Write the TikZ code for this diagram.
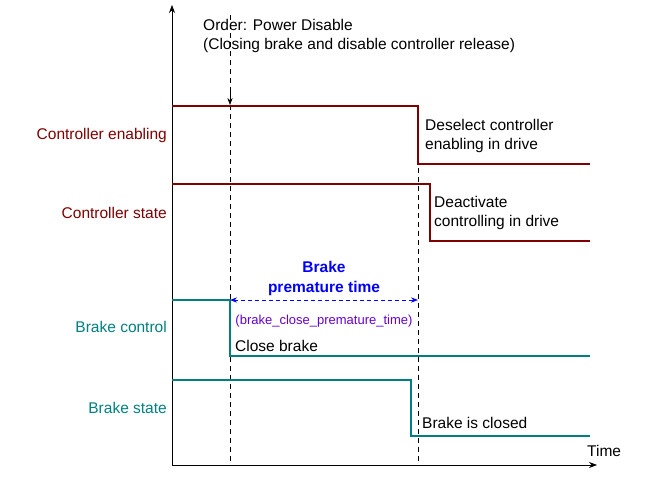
\documentclass[tikz,border=0pt]{standalone}
\usepackage{fontspec}
\setmainfont{Liberation Sans}
\usetikzlibrary{arrows.meta, positioning}
\definecolor{sigred}{RGB}{128,0,0}
\definecolor{sigteal}{RGB}{0,128,128}
\definecolor{lblblue}{RGB}{0,0,255}
\definecolor{lblpurple}{RGB}{102,0,204}
\tikzset{
  sig/.style={line width=2pt},
  lbl/.style={font=\fontsize{15.5}{19}\selectfont, inner sep=0pt},
  tmark/.style={dash pattern=on 5pt off 4pt, line width=0.7pt},
}
\begin{document}
\begin{tikzpicture}[x=1pt, y=-1pt, >=Stealth]
    \useasboundingbox (0,0) rectangle (647,481);

    % axes
    \coordinate (origin) at (172,465);
    \coordinate (ytop) at (172,5);
    \coordinate (xend) at (597,465);
    \draw[line width=0.7pt, -{Stealth[length=8pt]}] (origin) -- (ytop);
    \draw[line width=0.7pt, -{Stealth[length=8pt]}] (origin) -- (xend);
    \node[lbl, anchor=west] (time) at (587,451) {Time};

    % markers
    \coordinate (m1top) at (230,15);
    \coordinate (m1arr) at (230,105);
    \coordinate (m1bot) at (230,465);
    \coordinate (m2top) at (418,105);
    \coordinate (m2bot) at (418,465);
    \draw[tmark] (m1top) -- (m1bot);
    \draw[line width=0.7pt, -{Stealth[length=7pt]}] (230,90) -- (m1arr);
    \draw[tmark] (m2top) -- (m2bot);
    \node[lbl, anchor=north west, align=left] (order) at (203,19)
      {Order: Power Disable\\(Closing brake and disable controller release)};

    % controller enabling
    \draw[sig, sigred] (172,106) -- (418,106) -- (418,164) -- (590,164);
    \node[lbl, sigred, anchor=east] (cen) at (167,135) {Controller enabling};
    \node[lbl, anchor=north west, align=left] (desel) at (425,119)
      {Deselect controller\\enabling in drive};

    % controller state
    \draw[sig, sigred] (172,184) -- (430,184) -- (430,241) -- (590,241);
    \node[lbl, sigred, anchor=east] (cst) at (167,213) {Controller state};
    \node[lbl, anchor=north west, align=left] (deact) at (434,196)
      {Deactivate\\controlling in drive};

    % brake control
    \draw[sig, sigteal] (172,300) -- (230,300) -- (230,356) -- (590,356);
    \node[lbl, sigteal, anchor=east] (bctl) at (167,327) {Brake control};
    \node[lbl, anchor=west] (close) at (235,346) {Close brake};

    % brake state
    \draw[sig, sigteal] (172,380) -- (411,380) -- (411,436) -- (590,436);
    \node[lbl, sigteal, anchor=east] (bst) at (167,408) {Brake state};
    \node[lbl, anchor=west] (closed) at (422,423) {Brake is closed};

    % premature time
    \coordinate (pl) at (230,300);
    \coordinate (pr) at (418,300);
    \draw[lblblue, line width=1pt, dash pattern=on 4pt off 3pt, {Stealth[length=7pt]}-{Stealth[length=7pt]}] (pl) -- (pr);
    \node[lbl, lblblue, font=\fontsize{15.5}{20}\bfseries, align=center] (prem) at (324,278)
      {Brake\\premature time};
    \node[lbl, lblpurple, font=\fontsize{13}{15}\selectfont] (param) at (324,321)
      {(brake\_close\_premature\_time)};
\end{tikzpicture}
\end{document}
